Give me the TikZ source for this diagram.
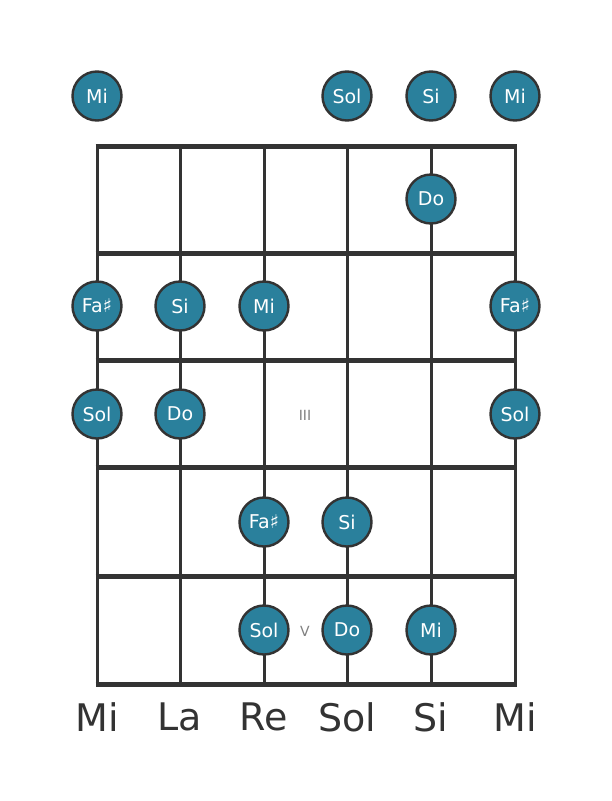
\documentclass[tikz,border=0pt]{standalone}
\usepackage{fontspec}
\setmainfont{DejaVu Sans}
\definecolor{note}{HTML}{2A809C}
\definecolor{ink}{HTML}{333333}
\begin{document}
\begin{tikzpicture}[x=1pt,y=-1pt,
  notec/.style={circle,fill=note,draw=ink,line width=2.4pt,minimum size=49pt,inner sep=0pt,text=white,font=\fontsize{19}{19}\selectfont},
  fretl/.style={draw=ink,line width=5pt},
  stringl/.style={draw=ink,line width=3pt},
  roman/.style={text=gray,font=\fontsize{14}{14}\selectfont},
  base/.style={text=ink,font=\fontsize{38}{38}\selectfont}]
\useasboundingbox (0,0) rectangle (611,801);
% strings
\foreach \x/\n in {97/s1,180/s2,264/s3,347/s4,431/s5,515/s6}{
  \coordinate (\n t) at (\x,146);
  \coordinate (\n b) at (\x,684);
  \draw[stringl] (\n t) -- (\n b);
}
% frets
\foreach \y/\n in {146/f0,253/f1,360/f2,467/f3,576/f4,684/f5}{
  \coordinate (\n l) at (95.5,\y);
  \coordinate (\n r) at (516.5,\y);
  \draw[fretl] (\n l) -- (\n r);
}
% open strings
\node[notec] (o1) at (97,96) {Mi};
\node[notec] (o4) at (347,96) {Sol};
\node[notec] (o5) at (431,96) {Si};
\node[notec] (o6) at (515,96) {Mi};
% fret 1
\node[notec] (a5) at (431,199) {Do};
% fret 2
\node[notec] (b1) at (97,306) {Fa♯};
\node[notec] (b2) at (180,306) {Si};
\node[notec] (b3) at (264,306) {Mi};
\node[notec] (b6) at (515,306) {Fa♯};
% fret 3
\node[notec] (c1) at (97,414) {Sol};
\node[notec] (c2) at (180,414) {Do};
\node[notec] (c6) at (515,414) {Sol};
% fret 4
\node[notec] (d3) at (264,522) {Fa♯};
\node[notec] (d4) at (347,522) {Si};
% fret 5
\node[notec] (e3) at (264,630) {Sol};
\node[notec] (e4) at (347,630) {Do};
\node[notec] (e5) at (431,630) {Mi};
% position markers
\node[roman] (r3) at (305,415) {III};
\node[roman] (r5) at (305,631) {V};
% tuning
\node[base] (t1) at (97,717) {Mi};
\node[base] (t2) at (180,717) {La};
\node[base] (t3) at (264,717) {Re};
\node[base] (t4) at (347,717) {Sol};
\node[base] (t5) at (431,717) {Si};
\node[base] (t6) at (515,717) {Mi};
\end{tikzpicture}
\end{document}
